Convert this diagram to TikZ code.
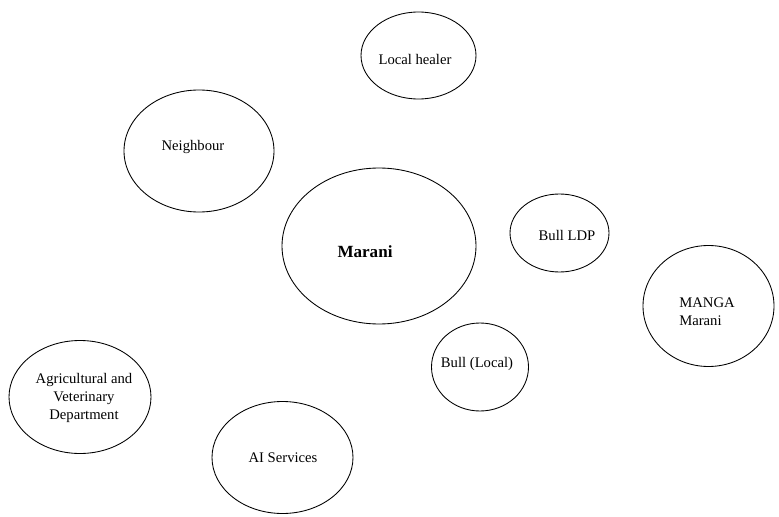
\documentclass[tikz,border=0pt]{standalone}
\usepackage{fontspec}
\setmainfont{Liberation Serif}
\usepackage{tikz}
\usetikzlibrary{shapes}
\tikzstyle{bubble}=[draw, ellipse, line width=0.65pt, inner sep=0pt]
\tikzstyle{word}=[inner sep=0pt, font=\fontsize{11}{13.5}\selectfont]

\begin{document}
\begin{tikzpicture}[x=0.75pt, y=-0.75pt]
\useasboundingbox (0,0) rectangle (779,517);

\node[bubble, minimum width=115*0.75pt, minimum height=87*0.75pt] (lh) at (418.5, 55.5) {};
\node[bubble, minimum width=150*0.75pt, minimum height=122*0.75pt] (nb) at (199, 151) {};
\node[bubble, minimum width=194*0.75pt, minimum height=156*0.75pt] (ma) at (379, 246) {};
\node[bubble, minimum width=99*0.75pt, minimum height=78*0.75pt] (ldp) at (559.5, 233) {};
\node[bubble, minimum width=131*0.75pt, minimum height=121*0.75pt] (mg) at (708.5, 306) {};
\node[bubble, minimum width=97*0.75pt, minimum height=88*0.75pt] (bl) at (480, 367) {};
\node[bubble, minimum width=142*0.75pt, minimum height=113*0.75pt] (agr) at (80, 397) {};
\node[bubble, minimum width=141*0.75pt, minimum height=112*0.75pt] (ai) at (282.5, 457.5) {};

\node[word] (lht) at (415, 59) {Local healer};
\node[word] (nbt) at (193, 147) {Neighbour};
\node[word, font=\fontsize{12.8}{15}\selectfont\bfseries] (mat) at (365, 252) {Marani};
\node[word] (ldpt) at (567, 235) {Bull LDP};
\node[word, align=left] (mgt) at (707, 312) {MANGA\\Marani};
\node[word] (blt) at (477, 364) {Bull (Local)};
\node[word, align=center] (agrt) at (84, 398) {Agricultural and\\Veterinary\\Department};
\node[word] (ait) at (283, 458) {AI Services};

\end{tikzpicture}
\end{document}
